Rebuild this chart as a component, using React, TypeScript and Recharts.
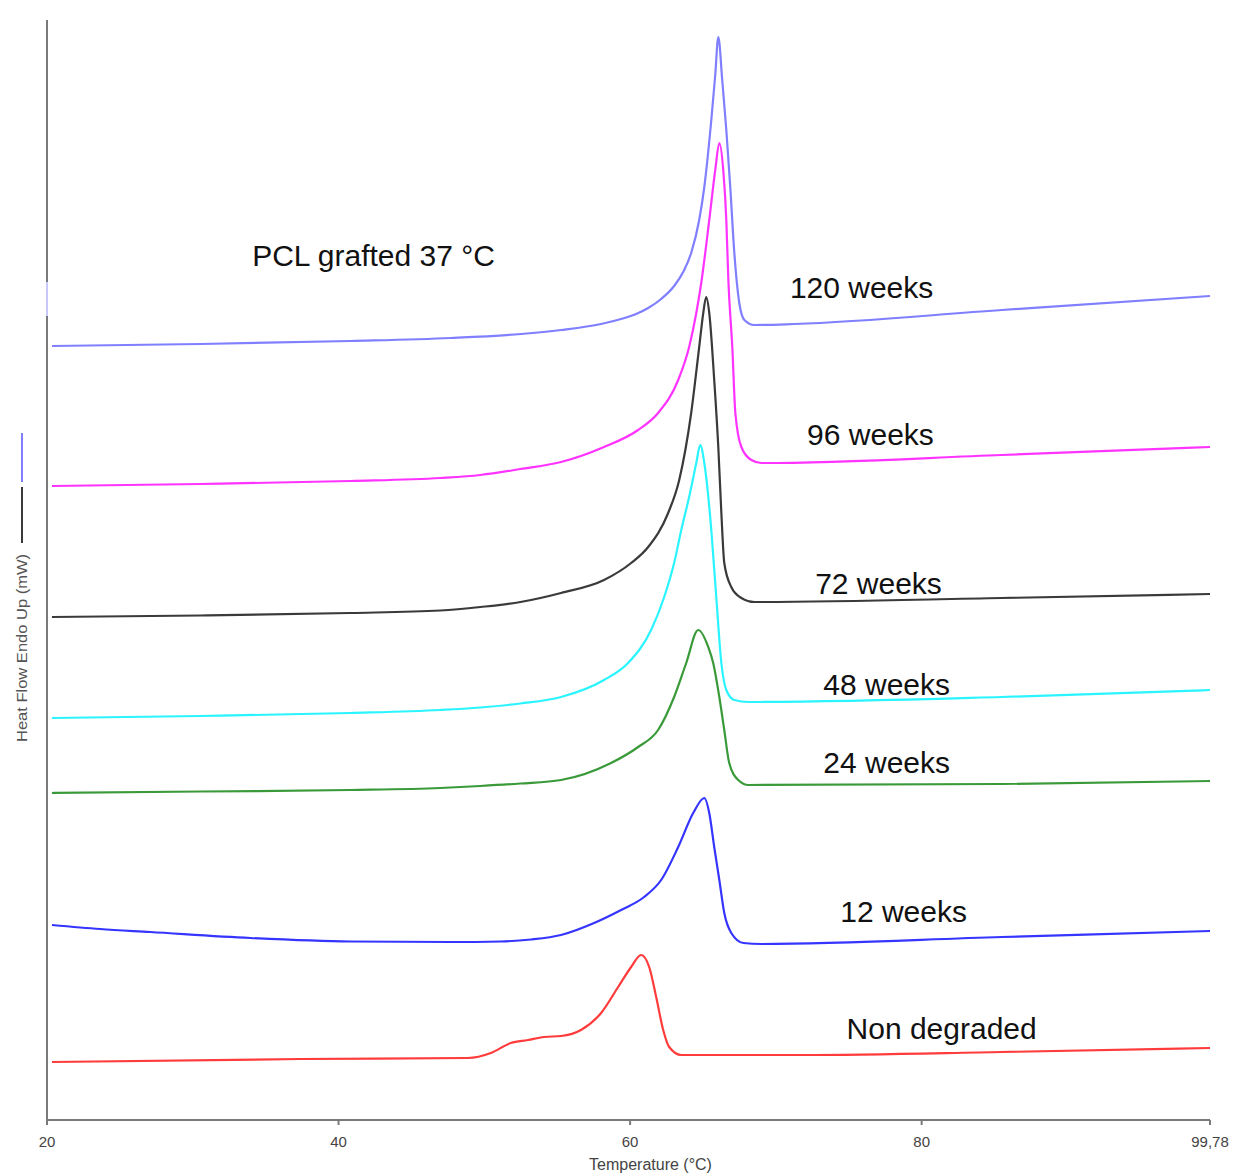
import React from "react";
import {
  LineChart,
  Line,
  XAxis,
  YAxis,
  ReferenceLine,
  ReferenceDot,
} from "recharts";

// [temperature °C, heat flow (arb. units)]
const weeks120: [number, number][] = [
  [20.34, 77.4], [30.52, 77.6], [40.82, 77.9], [47.7, 78.2], [52.51, 78.6],
  [55.26, 79.0], [58.01, 79.6], [59.38, 80.1], [60.41, 80.6], [61.24, 81.2],
  [62.13, 82.1], [63.02, 83.4], [63.64, 84.8], [64.19, 86.7], [64.74, 90.0],
  [65.09, 93.3], [65.57, 100.0], [65.84, 104.5], [66.05, 108.3], [66.32, 104.0],
  [66.6, 99.0], [66.87, 93.3], [67.15, 86.7], [67.49, 81.7], [67.84, 80.0],
  [68.52, 79.5], [71.27, 79.6], [85.5, 81.0], [99.78, 82.4],
];

const weeks96: [number, number][] = [
  [20.34, 63.4], [30.52, 63.6], [40.82, 63.9], [46.98, 64.2], [49.73, 64.5],
  [52.48, 65.1], [55.26, 65.8], [58.21, 67.3], [60.55, 69.0], [61.92, 70.7],
  [63.3, 74.0], [64.05, 77.3], [64.54, 80.7], [64.88, 83.7], [65.43, 90.0],
  [65.84, 95.0], [66.12, 97.7], [66.39, 95.0], [66.6, 90.0], [66.74, 84.0],
  [67.01, 77.3], [67.22, 70.7], [67.63, 67.3], [68.32, 66.0], [69.0, 65.7],
  [85.5, 66.5], [99.78, 67.3],
];

const weeks72: [number, number][] = [
  [20.34, 50.3], [30.52, 50.45], [40.82, 50.7], [46.98, 50.95], [49.73, 51.3],
  [52.48, 51.8], [55.26, 52.7], [58.21, 54.0], [60.07, 55.7], [61.24, 57.3],
  [62.61, 60.7], [63.37, 64.0], [64.19, 70.7], [64.74, 77.3], [65.02, 80.7],
  [65.22, 82.3], [65.43, 80.7], [65.77, 74.0], [66.05, 67.3], [66.26, 60.7],
  [66.46, 55.7], [66.94, 53.3], [67.63, 52.2], [68.52, 51.8], [85.5, 52.2],
  [99.78, 52.6],
];

const weeks48: [number, number][] = [
  [20.34, 40.2], [30.52, 40.4], [40.82, 40.7], [46.98, 41.0], [49.73, 41.25],
  [52.48, 41.65], [55.26, 42.3], [58.21, 44.0], [59.86, 45.7], [61.44, 49.0],
  [62.34, 52.3], [63.02, 55.7], [63.51, 59.0], [64.05, 62.3], [64.54, 65.7],
  [64.81, 67.5], [65.09, 65.7], [65.57, 59.0], [65.91, 52.3], [66.26, 45.7],
  [66.6, 43.0], [67.15, 42.0], [68.11, 41.8], [85.5, 42.3], [99.78, 43.0],
];

const weeks24: [number, number][] = [
  [20.34, 32.7], [30.52, 32.85], [40.82, 33.0], [46.98, 33.2], [49.73, 33.4],
  [52.48, 33.65], [55.26, 34.0], [58.69, 35.7], [60.55, 37.3], [61.92, 39.0],
  [63.02, 42.3], [63.85, 45.7], [64.67, 49.0], [65.36, 47.3], [65.7, 45.7],
  [66.12, 42.3], [66.46, 39.0], [66.8, 35.7], [67.42, 34.0], [68.11, 33.5],
  [85.5, 33.6], [99.78, 33.9],
];

const weeks12: [number, number][] = [
  [20.34, 19.5], [23.64, 19.1], [27.08, 18.8], [33.95, 18.2], [40.82, 17.85],
  [47.7, 17.8], [51.13, 17.85], [53.2, 18.05], [55.26, 18.5], [57.53, 19.7],
  [59.38, 21.0], [60.96, 22.3], [62.13, 24.0], [63.3, 27.3], [64.33, 30.7],
  [65.09, 32.2], [65.43, 30.7], [65.77, 27.3], [66.12, 24.0], [66.46, 20.7],
  [66.94, 18.7], [67.77, 17.7], [69.0, 17.6], [85.5, 18.3], [99.78, 18.9],
];

const nonDegraded: [number, number][] = [
  [20.34, 5.8], [37.39, 6.1], [48.87, 6.2], [50.45, 6.7], [51.82, 7.7],
  [52.99, 8.0], [54.09, 8.3], [55.26, 8.4], [56.63, 9.0], [58.01, 10.7],
  [59.18, 13.3], [60.07, 15.3], [60.76, 16.5], [61.31, 15.3], [61.79, 12.3],
  [62.27, 9.0], [62.68, 7.3], [63.51, 6.5], [71.75, 6.5], [85.5, 6.8],
  [99.78, 7.2],
];

const xTicks = [20, 40, 60, 80, 99.78];

const series = [
  { name: "Non degraded", color: "#ff3b3b", points: nonDegraded },
  { name: "12 weeks", color: "#3535ff", points: weeks12 },
  { name: "24 weeks", color: "#3a9a3a", points: weeks24 },
  { name: "48 weeks", color: "#2af4ff", points: weeks48 },
  { name: "72 weeks", color: "#3a3a3a", points: weeks72 },
  { name: "96 weeks", color: "#ff33ff", points: weeks96 },
  { name: "120 weeks", color: "#7f7fff", points: weeks120 },
];

// text labels placed beside each curve
const notes = [
  { text: "PCL grafted 37 °C", t: 42.4, hf: 86.5 },
  { text: "120 weeks", t: 75.88, hf: 83.3 },
  { text: "96 weeks", t: 76.49, hf: 68.6 },
  { text: "72 weeks", t: 77.04, hf: 53.7 },
  { text: "48 weeks", t: 77.6, hf: 43.6 },
  { text: "24 weeks", t: 77.6, hf: 35.8 },
  { text: "12 weeks", t: 78.76, hf: 20.9 },
  { text: "Non degraded", t: 81.37, hf: 9.2 },
];

const axisGray = "#7a7a7a";

export default function App() {
  return (
    <div
      style={{
        position: "relative",
        width: 1229,
        height: 1167,
        fontFamily: "'Liberation Sans', Arial, sans-serif",
      }}
    >
      <LineChart
        width={1229}
        height={1167}
        margin={{ top: 12, right: 27, bottom: 0, left: 39 }}
      >
        <XAxis
          dataKey="t"
          type="number"
          domain={[20, 99.78]}
          ticks={xTicks}
          interval={0}
          allowDataOverflow
          tickFormatter={(v: number) => (v === 99.78 ? "99,78" : String(v))}
          tick={{ fill: "#444", fontSize: 15 }}
          tickSize={5}
          tickMargin={11}
          tickLine={{ stroke: axisGray, strokeWidth: 2 }}
          axisLine={{ stroke: axisGray, strokeWidth: 2 }}
          height={55}
          label={{
            value: "Temperature (°C)",
            position: "insideBottom",
            offset: 5,
            dx: 22,
            fill: "#444",
            fontSize: 16,
          }}
        />
        <YAxis hide type="number" domain={[0, 110]} />
        <ReferenceLine
          segment={[{ x: 20, y: 0 }, { x: 20, y: 110 }]}
          stroke={axisGray}
          strokeWidth={2}
          ifOverflow="visible"
        />
        <ReferenceLine
          segment={[{ x: 20, y: 80.4 }, { x: 20, y: 83.8 }]}
          stroke="#c9c9ff"
          strokeWidth={2}
          ifOverflow="visible"
        />
        {series.map((s) => (
          <Line
            key={s.name}
            name={s.name}
            data={s.points.map(([t, hf]) => ({ t, hf }))}
            dataKey="hf"
            type="monotone"
            stroke={s.color}
            strokeWidth={2.2}
            dot={false}
            activeDot={false}
            isAnimationActive={false}
          />
        ))}
        {notes.map((n) => (
          <ReferenceDot
            key={n.text}
            x={n.t}
            y={n.hf}
            r={0}
            fill="none"
            stroke="none"
            ifOverflow="visible"
            label={{
              value: n.text,
              position: "center",
              fontSize: 30,
              fill: "#111",
            }}
          />
        ))}
      </LineChart>
      <svg
        width={40}
        height={1167}
        style={{ position: "absolute", left: 0, top: 0, pointerEvents: "none" }}
      >
        <line x1={14} y1={425} x2={14} y2={474} stroke="#7f7fff" strokeWidth={2} />
        <line x1={14} y1={479} x2={14} y2={535} stroke="#3a3a3a" strokeWidth={2} />
        <text
          x={14}
          y={640}
          transform="rotate(-90 14 640)"
          textAnchor="middle"
          dominantBaseline="central"
          fontSize={14}
          fill="#555"
          textLength={188}
          lengthAdjust="spacingAndGlyphs"
        >
          Heat Flow Endo Up (mW)
        </text>
      </svg>
    </div>
  );
}
